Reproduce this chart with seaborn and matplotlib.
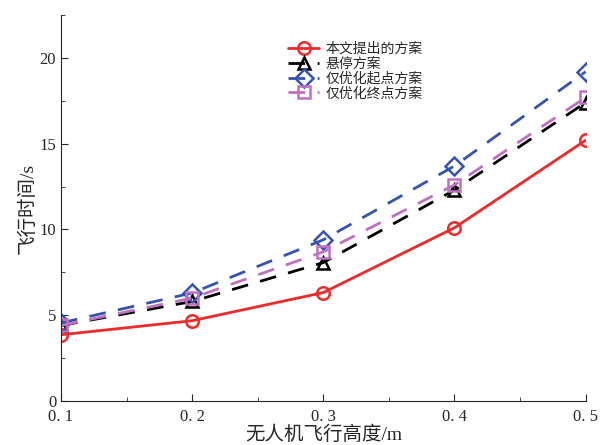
import pandas as pd
import seaborn as sns
import matplotlib.pyplot as plt
from matplotlib.ticker import MultipleLocator

# flight height (m)
heights = [0.1, 0.2, 0.3, 0.4, 0.5]

# flight time (s) for each scheme
proposed = [3.86, 4.68, 6.32, 10.1, 15.2]
hover = [4.4, 5.8, 8.07, 12.3, 17.4]
start_only = [4.55, 6.3, 9.4, 13.7, 19.2]
end_only = [4.4, 6.0, 8.7, 12.6, 17.7]

names = ["本文提出的方案", "悬停方案", "仅优化起点方案", "仅优化终点方案"]
series = [proposed, hover, start_only, end_only]

df = pd.DataFrame({"h": heights * 4,
                   "t": sum(series, []),
                   "scheme": [n for n in names for _ in heights]})

sns.set_style("ticks")
plt.rcParams['font.family'] = ['Liberation Serif', 'Noto Sans CJK SC']

colors = ["#ee2a2a", "#000000", "#3553b0", "#c070c0"]
palette = dict(zip(names, colors))
markers = dict(zip(names, ["o", "^", "D", "s"]))
dashes = dict(zip(names, ["", (6, 4.5), (6, 4.5), (6, 4.5)]))

fig = plt.figure(figsize=(6.1, 4.45), dpi=100)
ax = fig.add_axes([0.1, 0.099, 0.86, 0.867])

sns.lineplot(data=df, x="h", y="t", hue="scheme", style="scheme",
             palette=palette, markers=markers, dashes=dashes,
             linewidth=2, markersize=9, markeredgewidth=1.8,
             legend=False, ax=ax)

for line, c in zip(ax.lines, colors):
    line.set_markerfacecolor("none")
    line.set_markeredgecolor(c)

ax.legend(ax.lines[:4], names, loc="upper left", bbox_to_anchor=(0.415, 0.955),
          frameon=False, handlelength=2.2, labelspacing=0.05,
          borderpad=0.2, handletextpad=0.5,
          prop={"family": ["Noto Sans CJK SC"], "size": 10})

ax.set_xlim(0.1, 0.5)
ax.set_ylim(0, 22.5)
ax.set_xticks(heights)
ax.set_xticklabels(["0. 1", "0. 2", "0. 3", "0. 4", "0. 5"])
ax.set_yticks([0, 5, 10, 15, 20])
ax.xaxis.set_minor_locator(MultipleLocator(0.05))
ax.yaxis.set_minor_locator(MultipleLocator(2.5))
ax.tick_params(which="both", direction="in", labelsize=12)
ax.tick_params(which="major", length=5)
ax.tick_params(which="minor", length=3)
ax.tick_params(axis="x", pad=6)
sns.despine(ax=ax)

ax.set_xlabel("无人机飞行高度/m", fontsize=14, labelpad=0)
ax.set_ylabel("飞行时间/s", fontsize=14, labelpad=2)

fig.savefig("out.png", dpi=100)
